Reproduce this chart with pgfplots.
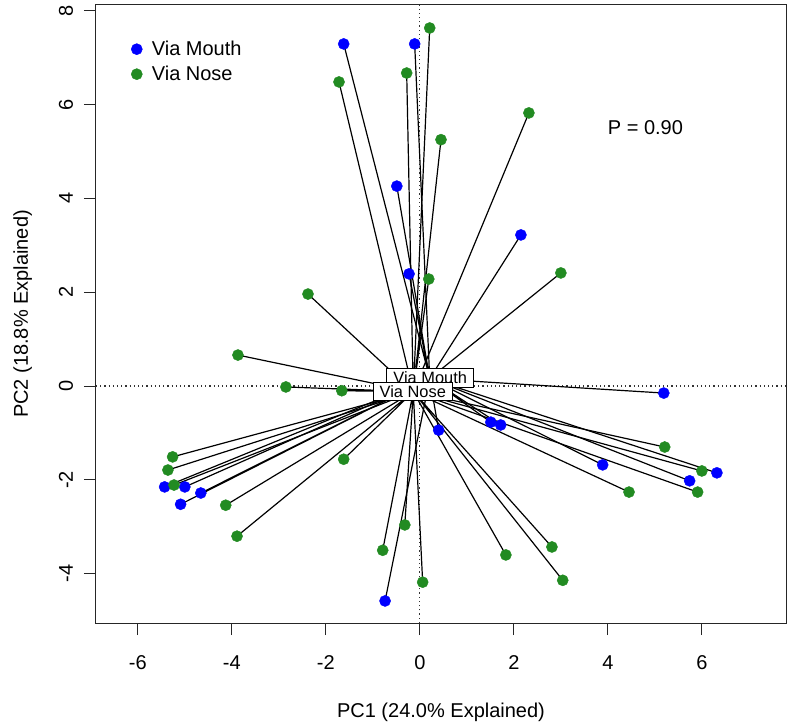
\documentclass[border=0pt]{standalone}
\usepackage{fontspec}
\setmainfont{Liberation Sans}
\usepackage{pgfplots}
\pgfplotsset{compat=1.18}
\definecolor{mouth}{RGB}{0,0,255}
\definecolor{nose}{RGB}{34,139,34}
\newcommand{\bigf}{\fontsize{20bp}{23bp}\selectfont}
\newcommand{\smallf}{\fontsize{16.4bp}{18bp}\selectfont}
\begin{document}
\begin{tikzpicture}
\useasboundingbox (-96bp,-101bp) rectangle (696bp,623bp);
\begin{axis}[
  at={(0,0)}, anchor=south west,
  scale only axis, width=690bp, height=618bp,
  xmin=-6.89, xmax=7.79, ymin=-5.05, ymax=8.12,
  axis line style={line width=1bp, black!85},
  xtick={-6,-4,-2,0,2,4,6}, xticklabels={-6,-4,-2,0,2,4,6},
  ytick={-4,-2,0,2,4,6,8}, yticklabels={-4,-2,0,2,4,6,8},
  tick pos=left, tick align=outside,
  major tick length=12bp,
  every tick/.style={black!85, line width=1bp},
  tick label style={font=\bigf},
  xticklabel style={anchor=base, yshift=-34bp},
  yticklabel style={xshift=-11bp, rotate=90, anchor=base},
  every axis x label/.style={at={(axis description cs:0.5,0)}, yshift=-94bp, anchor=base, font=\bigf},
  every axis y label/.style={at={(axis description cs:0,0.5)}, xshift=-68bp, rotate=90, anchor=base, font=\bigf},
  xlabel={PC1 (24.0\% Explained)},
  ylabel={PC2 (18.8\% Explained)},
  legend style={draw=none, fill=none, at={(axis description cs:0,1)}, anchor=north west,
    xshift=35bp, yshift=-34bp, font=\bigf, inner sep=0pt, row sep=5bp,
    nodes={inner sep=2bp},
    /tikz/every odd column/.append style={column sep=7.5bp}},
  legend cell align=left,
]
\addplot[black!80, line width=1.1bp, dash pattern=on 1.2bp off 3bp, forget plot] coordinates {(0,-5.05) (0,8.12)};
\addplot[black!80, line width=1.1bp, dash pattern=on 1.2bp off 3bp, forget plot] coordinates {(-6.89,0) (7.79,0)};

\addplot[only marks, mark=*, mark size=5.6pt, color=mouth] coordinates {
(-1.62,7.29) (-0.11,7.29) (-0.49,4.26) (2.15,3.22) (-0.23,2.39) (0.40,-0.94) (1.51,-0.77) (1.72,-0.83) (3.89,-1.68) (5.74,-2.02) (6.32,-1.85) (5.19,-0.15) (-5.43,-2.15) (-5.00,-2.15) (-4.66,-2.28) (-5.09,-2.52) (-0.74,-4.58)};
\addlegendentry{Via Mouth}
\addplot[only marks, mark=*, mark size=5.6pt, color=nose] coordinates {
(0.21,7.63) (-1.72,6.48) (-0.28,6.67) (0.45,5.25) (2.32,5.82) (0.19,2.28) (3.00,2.41) (-2.38,1.96) (-3.87,0.66) (-2.85,-0.02) (-1.66,-0.10) (-1.62,-1.56) (-5.26,-1.51) (-5.36,-1.79) (-5.23,-2.11) (-4.13,-2.54) (-3.89,-3.20) (-0.79,-3.50) (-0.32,-2.96) (0.06,-4.18) (1.83,-3.60) (2.81,-3.43) (3.04,-4.14) (4.45,-2.26) (5.21,-1.30) (6.00,-1.81) (5.91,-2.26)};
\addlegendentry{Via Nose}

% spider lines: centroid -> point -> centroid ...
\addplot[black, line width=1.2bp, line join=round, forget plot] coordinates {
(0.21,0.16) (-1.62,7.29) (0.21,0.16) (-0.11,7.29) (0.21,0.16) (-0.49,4.26) (0.21,0.16) (2.15,3.22)
(0.21,0.16) (-0.23,2.39) (0.21,0.16) (0.40,-0.94) (0.21,0.16) (1.51,-0.77) (0.21,0.16) (1.72,-0.83)
(0.21,0.16) (3.89,-1.68) (0.21,0.16) (5.74,-2.02) (0.21,0.16) (6.32,-1.85) (0.21,0.16) (5.19,-0.15)
(0.21,0.16) (-5.43,-2.15) (0.21,0.16) (-5.00,-2.15) (0.21,0.16) (-4.66,-2.28) (0.21,0.16) (-5.09,-2.52)
(0.21,0.16) (-0.74,-4.58) (0.21,0.16)};
\addplot[black, line width=1.2bp, line join=round, forget plot] coordinates {
(-0.14,-0.12) (0.21,7.63) (-0.14,-0.12) (-1.72,6.48) (-0.14,-0.12) (-0.28,6.67) (-0.14,-0.12) (0.45,5.25)
(-0.14,-0.12) (2.32,5.82) (-0.14,-0.12) (0.19,2.28) (-0.14,-0.12) (3.00,2.41) (-0.14,-0.12) (-2.38,1.96)
(-0.14,-0.12) (-3.87,0.66) (-0.14,-0.12) (-2.85,-0.02) (-0.14,-0.12) (-1.66,-0.10) (-0.14,-0.12) (-1.62,-1.56)
(-0.14,-0.12) (-5.26,-1.51) (-0.14,-0.12) (-5.36,-1.79) (-0.14,-0.12) (-5.23,-2.11) (-0.14,-0.12) (-4.13,-2.54)
(-0.14,-0.12) (-3.89,-3.20) (-0.14,-0.12) (-0.79,-3.50) (-0.14,-0.12) (-0.32,-2.96) (-0.14,-0.12) (0.06,-4.18)
(-0.14,-0.12) (1.83,-3.60) (-0.14,-0.12) (2.81,-3.43) (-0.14,-0.12) (3.04,-4.14) (-0.14,-0.12) (4.45,-2.26)
(-0.14,-0.12) (5.21,-1.30) (-0.14,-0.12) (6.00,-1.81) (-0.14,-0.12) (5.91,-2.26) (-0.14,-0.12)};

\node[draw=black, fill=white, line width=1bp, font=\smallf, inner xsep=6.5bp, inner ysep=3.2bp] at (axis cs:0.22,0.17) {Via Mouth};
\node[draw=black, fill=white, line width=1bp, font=\smallf, inner xsep=6.5bp, inner ysep=3.2bp] at (axis cs:-0.15,-0.12) {Via Nose};
\node[font=\bigf] at (axis cs:4.80,5.50) {P = 0.90};
\end{axis}
\end{tikzpicture}
\end{document}
